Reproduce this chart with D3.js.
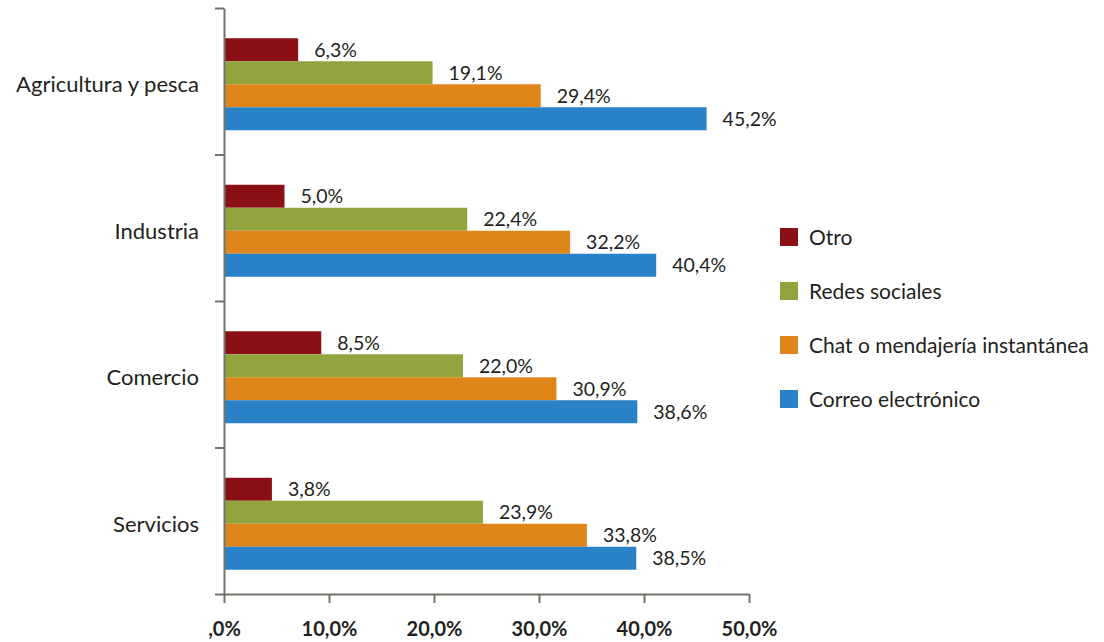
<!DOCTYPE html>
<html>
<head>
<meta charset="utf-8">
<script src="https://cdn.jsdelivr.net/npm/d3@7/dist/d3.min.js"></script>
<style>
  html, body { margin: 0; padding: 0; background: #ffffff; }
  svg { display: block; font-family: Lato, "Open Sans", sans-serif; }
</style>
</head>
<body>
<svg id="chart" width="1104" height="642"></svg>
<script>
// ---- Data ----
const categories = ["Agricultura y pesca", "Industria", "Comercio", "Servicios"];
const seriesNames = ["Otro", "Redes sociales", "Chat o mendajería instantánea", "Correo electrónico"];
const otro   = [6.3, 5.0, 8.5, 3.8];
const redes  = [19.1, 22.4, 22.0, 23.9];
const chat   = [29.4, 32.2, 30.9, 33.8];
const correo = [45.2, 40.4, 38.6, 38.5];
const tickValues = [0, 10, 20, 30, 40, 50];
const tickLabels = [",0%", "10,0%", "20,0%", "30,0%", "40,0%", "50,0%"];

// ---- Styles ----
const colors = ["#8a1015", "#91a43e", "#df861a", "#2981c7"];
const axisColor = "#73746c";
const textColor = "#231f20";
const barExtra = 8;
const barShift = 3;

const seriesValues = [otro, redes, chat, correo];
const rows = [];
categories.forEach((c, ci) => {
  seriesNames.forEach((s, si) => rows.push({ cat: c, series: s, si, value: seriesValues[si][ci] }));
});

const svg = d3.select("#chart");

const x = d3.scaleLinear().domain([0, 50]).range([224, 749]);
const y = d3.scaleBand().domain(categories).range([8 + barShift, 594 + barShift]).paddingInner(0.372).paddingOuter(0.186);
const y1 = d3.scaleBand().domain(seriesNames).range([0, y.bandwidth()]);
const yEdge = d3.scaleLinear().domain([0, categories.length]).range([8, 594]);

// Bars
svg.append("g").selectAll("rect").data(rows).join("rect")
  .attr("x", x(0))
  .attr("y", d => y(d.cat) + y1(d.series))
  .attr("width", d => x(d.value) - x(0) + barExtra)
  .attr("height", y1.bandwidth())
  .attr("fill", d => colors[d.si]);

// Value labels
svg.append("g").selectAll("text").data(rows).join("text")
  .attr("x", d => x(d.value) + barExtra + 16)
  .attr("y", d => y(d.cat) + y1(d.series) + y1.bandwidth() / 2)
  .attr("dy", "0.36em")
  .attr("font-size", 19.5)
  .attr("fill", textColor)
  .text(d => d.value.toFixed(1).replace(".", ",") + "%");

// Y axis (category boundaries)
const yAxis = svg.append("g").attr("transform", `translate(${x(0)},0)`)
  .call(d3.axisLeft(yEdge).tickValues(d3.range(categories.length + 1)).tickFormat("").tickSize(9).tickSizeOuter(0));
yAxis.select(".domain").attr("stroke", axisColor).attr("stroke-width", 2);
yAxis.selectAll(".tick line").attr("stroke", axisColor).attr("stroke-width", 2);

// Category labels
svg.append("g").selectAll("text").data(categories).join("text")
  .attr("x", x(0) - 25)
  .attr("y", d => y(d) + y.bandwidth() / 2)
  .attr("dy", "0.36em")
  .attr("text-anchor", "end")
  .attr("font-size", 22)
  .attr("fill", textColor)
  .text(d => d);

// X axis
const xAxis = svg.append("g").attr("transform", `translate(0,594)`)
  .call(d3.axisBottom(x).tickValues(tickValues).tickFormat((d, i) => tickLabels[i]).tickSize(9).tickSizeOuter(0));
xAxis.select(".domain").attr("stroke", axisColor).attr("stroke-width", 2);
xAxis.selectAll(".tick line").attr("stroke", axisColor).attr("stroke-width", 2);
xAxis.selectAll(".tick text")
  .attr("y", 28).attr("dy", "0.71em")
  .attr("font-size", 20).attr("font-weight", "bold")
  .attr("font-family", "Lato, sans-serif")
  .attr("fill", textColor);

// Legend
const legend = svg.append("g").selectAll("g").data(seriesNames).join("g")
  .attr("transform", (d, i) => `translate(780,${237 + i * 54})`);
legend.append("rect").attr("x", 0).attr("y", -9).attr("width", 18).attr("height", 18)
  .attr("fill", (d, i) => colors[i]);
legend.append("text").attr("x", 29).attr("y", 0).attr("dy", "0.36em")
  .attr("font-size", 21).attr("fill", textColor).text(d => d);
</script>
</body>
</html>
